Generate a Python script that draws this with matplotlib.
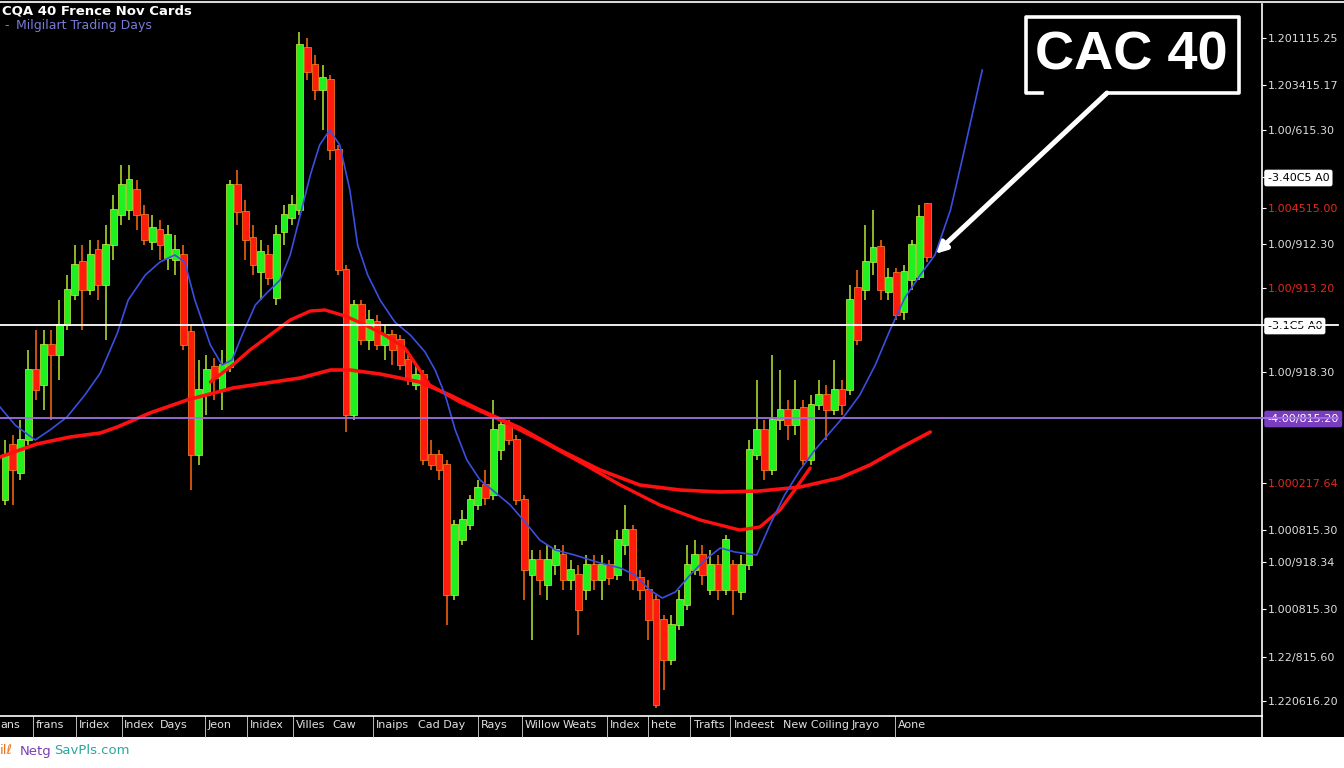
import numpy as np
import matplotlib
matplotlib.use("Agg")
import matplotlib.pyplot as plt
from matplotlib.patches import Rectangle
from matplotlib.lines import Line2D

# ---- data (CAC 40 points) ----
open_ = [7216, 7271, 7243, 7276, 7346, 7331, 7371, 7361, 7391, 7421,
         7454, 7426, 7466, 7431, 7471, 7501, 7506, 7526, 7501, 7474,
         7486, 7458, 7456, 7461, 7384, 7261, 7321, 7349, 7326, 7349,
         7531, 7504, 7478, 7444, 7461, 7418, 7484, 7498, 7506, 7668,
         7651, 7626, 7636, 7566, 7446, 7301, 7411, 7376, 7394, 7371,
         7381, 7376, 7356, 7331, 7341, 7261, 7261, 7251, 7121, 7176,
         7191, 7211, 7231, 7221, 7266, 7291, 7276, 7216, 7141, 7156,
         7131, 7151, 7161, 7136, 7141, 7126, 7151, 7136, 7151, 7141,
         7171, 7186, 7138, 7126, 7116, 7096, 7056, 7091, 7111, 7146,
         7161, 7126, 7151, 7126, 7151, 7124, 7151, 7261, 7286, 7246,
         7296, 7306, 7291, 7308, 7256, 7311, 7321, 7306, 7326, 7326,
         7428, 7426, 7454, 7469, 7424, 7443, 7404, 7436, 7439, 7512]
high = [7276, 7281, 7296, 7366, 7386, 7386, 7386, 7416, 7441, 7471,
        7471, 7476, 7476, 7491, 7521, 7551, 7551, 7536, 7511, 7501,
        7496, 7491, 7481, 7471, 7391, 7356, 7361, 7358, 7366, 7536,
        7546, 7516, 7491, 7476, 7471, 7491, 7511, 7521, 7684, 7678,
        7661, 7651, 7641, 7571, 7451, 7416, 7416, 7406, 7401, 7391,
        7386, 7381, 7361, 7351, 7346, 7276, 7266, 7256, 7196, 7206,
        7221, 7236, 7246, 7316, 7296, 7296, 7281, 7221, 7166, 7166,
        7171, 7171, 7171, 7156, 7151, 7161, 7161, 7161, 7156, 7186,
        7211, 7191, 7146, 7136, 7121, 7101, 7101, 7126, 7171, 7176,
        7171, 7166, 7161, 7181, 7156, 7161, 7276, 7336, 7296, 7361,
        7346, 7316, 7336, 7316, 7321, 7336, 7331, 7356, 7336, 7431,
        7446, 7491, 7506, 7476, 7448, 7448, 7451, 7476, 7511, 7513]
low = [7211, 7211, 7236, 7271, 7316, 7306, 7296, 7336, 7386, 7416,
       7386, 7421, 7416, 7376, 7456, 7491, 7496, 7486, 7471, 7466,
       7456, 7446, 7441, 7366, 7226, 7251, 7301, 7316, 7306, 7344,
       7491, 7456, 7441, 7416, 7431, 7411, 7471, 7491, 7501, 7636,
       7616, 7586, 7556, 7441, 7284, 7296, 7371, 7366, 7366, 7356,
       7351, 7346, 7331, 7326, 7251, 7246, 7236, 7091, 7116, 7171,
       7186, 7206, 7211, 7216, 7256, 7271, 7211, 7116, 7076, 7121,
       7116, 7141, 7126, 7126, 7081, 7116, 7126, 7116, 7131, 7136,
       7161, 7126, 7116, 7076, 7008, 7026, 7051, 7086, 7106, 7141,
       7131, 7121, 7116, 7121, 7101, 7116, 7146, 7256, 7236, 7241,
       7286, 7276, 7281, 7251, 7251, 7306, 7276, 7301, 7301, 7321,
       7371, 7416, 7441, 7416, 7416, 7396, 7396, 7426, 7436, 7454]
close = [7261, 7246, 7276, 7346, 7326, 7371, 7361, 7391, 7426, 7451,
         7426, 7461, 7431, 7471, 7506, 7531, 7536, 7501, 7476, 7488,
         7471, 7481, 7466, 7371, 7261, 7326, 7346, 7338, 7351, 7531,
         7504, 7476, 7451, 7464, 7438, 7481, 7501, 7511, 7671, 7644,
         7626, 7638, 7566, 7446, 7301, 7411, 7376, 7396, 7371, 7381,
         7366, 7351, 7336, 7341, 7256, 7251, 7246, 7121, 7191, 7196,
         7216, 7228, 7218, 7286, 7291, 7276, 7216, 7146, 7156, 7136,
         7156, 7166, 7136, 7146, 7106, 7151, 7136, 7151, 7138, 7176,
         7186, 7136, 7126, 7096, 7011, 7056, 7091, 7116, 7151, 7161,
         7141, 7151, 7126, 7176, 7126, 7151, 7266, 7286, 7246, 7296,
         7306, 7291, 7306, 7256, 7311, 7321, 7306, 7326, 7311, 7416,
         7376, 7454, 7468, 7426, 7438, 7401, 7444, 7471, 7499, 7459]

# fast average (blue) and two slow averages (red)
fast_x = [-0.65, 1.3, 3.9, 5.8, 8.0, 10.3, 12.3, 14.5, 15.9, 18.1, 20.0, 21.9, 23.2,
          24.5, 26.5, 28.0, 29.3, 30.6, 32.3, 33.9, 35.5, 36.8, 38.1, 39.4, 40.6,
          41.9, 43.2, 44.5, 45.5, 46.8, 48.4, 50.3, 52.3, 54.2, 55.5, 56.8, 58.1,
          59.6, 61.3, 63.2, 65.2, 67.1, 69.0, 71.0, 73.5, 76.8, 79.4, 81.3, 83.2,
          84.8, 86.5, 88.4, 90.3, 92.3, 94.2, 97.0, 98.7, 100.6, 102.6, 104.5,
          106.5, 108.4, 110.3, 112.3, 114.2, 116.1, 118.1, 120.0, 122.0, 123.5,
          124.8, 126.1]
fast_y = [7309, 7291, 7276, 7286, 7299, 7321, 7343, 7383, 7416, 7441, 7454, 7461, 7454,
          7416, 7371, 7351, 7356, 7381, 7411, 7424, 7436, 7461, 7501, 7541, 7571,
          7586, 7571, 7526, 7471, 7441, 7416, 7394, 7381, 7364, 7346, 7321, 7286,
          7256, 7236, 7224, 7211, 7194, 7176, 7166, 7161, 7153, 7148, 7141, 7126,
          7118, 7124, 7141, 7156, 7168, 7164, 7161, 7191, 7221, 7246, 7266,
          7284, 7301, 7321, 7351, 7386, 7418, 7441, 7461, 7506, 7556,
          7601, 7646]
slow_x = [-0.65, 4.1, 8.4, 12.3, 14.5, 18.7, 23.5, 29.4, 38.1, 42.0, 44.5, 48.4, 53.5,
          57.4, 61.3, 66.5, 71.6, 76.8, 81.9, 87.1, 92.3, 97.4, 102.6, 107.7, 111.6,
          115.5, 119.4]
slow_y = [7259, 7272, 7279, 7283, 7289, 7303, 7316, 7328, 7338, 7346, 7346, 7342, 7334,
          7321, 7306, 7288, 7266, 7246, 7231, 7226, 7224, 7225, 7229, 7238, 7251,
          7268, 7284]
mid_x = [26.5, 29.4, 31.6, 34.2, 36.8, 39.4, 41.3, 43.9, 46.5, 49.0, 51.6, 54.8, 58.7,
         63.9, 69.0, 74.2, 79.4, 84.5, 89.7, 94.8, 97.4, 100.0, 101.9, 103.9]
mid_y = [7334, 7351, 7366, 7381, 7396, 7405, 7406, 7400, 7391, 7381, 7368, 7331, 7314,
         7296, 7276, 7254, 7231, 7211, 7196, 7186, 7189, 7206, 7226, 7248]

level_white = 7391
level_purple = 7298

ytick_vals = [7678, 7631, 7586, 7539, 7508, 7472, 7428, 7391, 7344, 7298,
              7233, 7186, 7154, 7107, 7059, 7015]
ytick_labels = ["1.201115.25", "1.203415.17", "1.00/615.30", "-3.40C5 A0",
                "1.004515.00", "1.00/912.30", "1.00/913.20", "-3.1C5 A0",
                "1.00/918.30", "-4.00/815.20", "1.000217.64", "1.000815.30",
                "1.00/918.34", "1.000815.30", "1.22/815.60", "1.220616.20"]
red_labels = {"1.004515.00", "1.00/913.20", "1.000217.64"}

xlabel_pos = [-0.6, 4.0, 9.5, 15.4, 20.0, 26.2, 31.6, 37.6, 42.3, 47.9, 53.3,
              61.4, 67.1, 72.0, 78.0, 83.3, 88.9, 94.0, 100.4, 109.3, 115.2]
xlabel_txt = ["ans", "frans", "Iridex", "Index", "Days", "Jeon", "Inidex", "Villes",
              "Caw", "Inaips", "Cad Day", "Rays", "Willow", "Weats", "Index", "hete",
              "Trafts", "Indeest", "New Coiling", "Jrayo", "Aone"]
xline_pos = [3.6, 9.2, 15.1, 25.8, 31.2, 37.2, 47.5, 61.0, 66.7, 77.7, 83.0,
             88.4, 93.5, 114.8]

# ---- figure ----
W, H = 1344, 768
fig = plt.figure(figsize=(W / 100, H / 100), dpi=100, facecolor="white")
fig.patches.append(Rectangle((0, 31 / H), 1, 1, transform=fig.transFigure,
                             facecolor="black", edgecolor="none", zorder=-5))

ax = fig.add_axes([0, 52 / H, 1262 / W, (712) / H])
ax.set_facecolor("black")
ax.set_xlim(-0.645, 162.2)
ax.set_ylim(7000, 7712)

x = np.arange(len(close))
o = np.array(open_)
c = np.array(close)
up = c >= o
green, red = "#1ff01f", "#ff1c0c"
body_col = np.where(up, green, red)
wick_col = np.where(up, "#b8e830", "#ff6a10")

ax.vlines(x, low, high, colors=wick_col, lw=1.1, zorder=2)
ax.bar(x, np.abs(c - o) + 1, bottom=np.minimum(o, c), width=0.88,
       color=body_col, edgecolor=np.where(up, "#d0f040", "#ff8a20"),
       linewidth=0.5, zorder=3)

ax.plot(slow_x, slow_y, color="#ff1010", lw=2.6, zorder=4, solid_capstyle="round")
ax.plot(mid_x, mid_y, color="#ff1010", lw=2.4, zorder=4, solid_capstyle="round")
ax.plot(fast_x, fast_y, color="#3a4fe0", lw=1.2, zorder=5)

ax.axhline(level_white, color="white", lw=1.3, zorder=6, clip_on=False, xmax=1.06)
ax.axhline(level_purple, color="#a070e0", lw=1.3, zorder=6, clip_on=False, xmax=1.06)

# axes frame
for s in ["top", "left"]:
    ax.spines[s].set_visible(False)
ax.spines["bottom"].set_color("white")
ax.spines["right"].set_color("white")
ax.spines["bottom"].set_linewidth(1.2)
ax.spines["right"].set_linewidth(1.2)

# right price axis
ax.yaxis.tick_right()
ax.set_yticks(ytick_vals)
ax.set_yticklabels(ytick_labels)
ax.tick_params(axis="y", colors="white", length=3, width=0.8, pad=1,
               labelsize=8, labelcolor="#dcdcdc")
for t in ax.get_yticklabels():
    s = t.get_text()
    if s in red_labels:
        t.set_color("#e02a1a")
    if s.startswith("-3"):
        t.set_color("black")
        t.set_bbox(dict(boxstyle="round,pad=0.3,rounding_size=0.2",
                        facecolor="white", edgecolor="none"))
    if s.startswith("-4"):
        t.set_color("white")
        t.set_bbox(dict(boxstyle="round,pad=0.3,rounding_size=0.2",
                        facecolor="#7a3dc0", edgecolor="none"))

# bottom labels
ax.set_xticks(xlabel_pos)
ax.set_xticklabels(xlabel_txt, ha="left")
ax.set_xticks(xline_pos, minor=True)
ax.tick_params(axis="x", which="major", length=0, pad=3, labelsize=8,
               labelcolor="#e0e0e0")
ax.tick_params(axis="x", which="minor", length=15, width=0.7, color="#bbbbbb")

# right spine extends into the label strip, thin frame line on top
fig.add_artist(Line2D([1262 / W, 1262 / W], [31 / H, 52 / H], color="white", lw=1.2,
                      transform=fig.transFigure))
fig.add_artist(Line2D([0, 1], [766 / H, 766 / H], color="#d8d8d8", lw=1.5,
                      transform=fig.transFigure))

# header
fig.text(2 / W, 1 - 11 / H, "CQA 40 Frence Nov Cards", color="white",
         fontsize=9.5, fontweight="bold", va="center", ha="left")
fig.text(4 / W, 1 - 26 / H, "-", color="#a08070", fontsize=9, va="center")
fig.text(16 / W, 1 - 26 / H, "Milgilart Trading Days", color="#7a7ad8",
         fontsize=9, va="center")

# CAC 40 callout
fx = lambda px: px / W
fy = lambda py: 1 - py / H
fig.add_artist(Line2D([fx(1042), fx(1026), fx(1026), fx(1239), fx(1239), fx(1107)],
                      [fy(93), fy(93), fy(17), fy(17), fy(93), fy(93)],
                      color="white", lw=2.6, transform=fig.transFigure))
fig.text(fx(1131), fy(56), "CAC 40", color="white", fontsize=39,
         fontweight="bold", family="Liberation Sans", ha="center", va="center")
ax.annotate("", xy=(120.0, close[-1] + 3), xycoords="data",
            xytext=(fx(1107), fy(93)), textcoords="figure fraction",
            arrowprops=dict(arrowstyle="-|>", color="white", lw=3.6,
                            mutation_scale=16, shrinkA=0, shrinkB=0))

# watermark
fig.text(0, fy(751), "il\u2113", color="#e8731a", fontsize=9.5, va="center")
fig.text(fx(20), fy(751), "Netg", color="#7b3fb8", fontsize=9.5, va="center")
fig.text(fx(54), fy(751), "SavPls.com", color="#2aa7a0", fontsize=9.5, va="center")

fig.savefig("out.png", dpi=100, facecolor=fig.get_facecolor())
